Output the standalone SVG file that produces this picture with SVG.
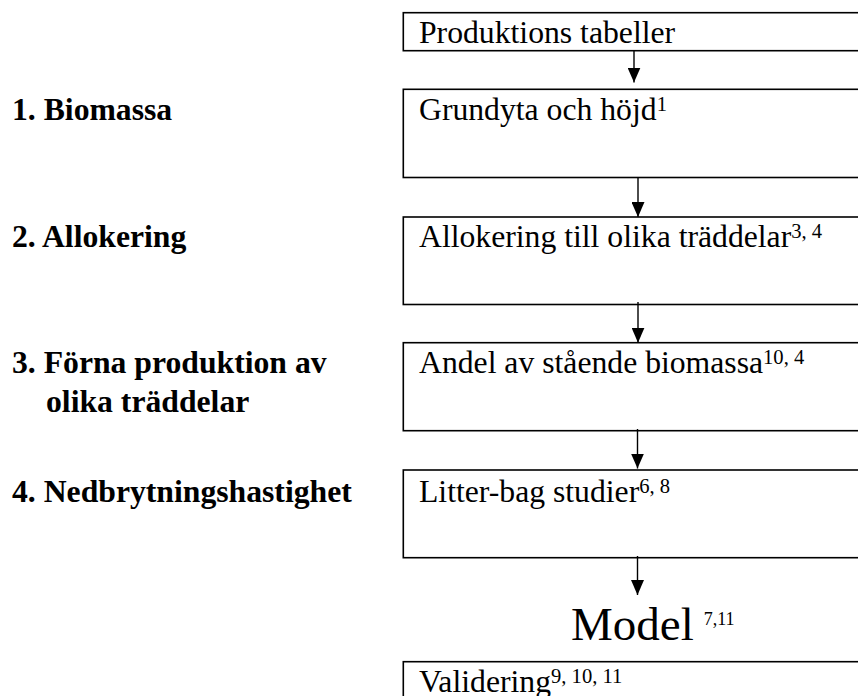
<svg xmlns="http://www.w3.org/2000/svg" width="858" height="696" viewBox="0 0 858 696">
<style>
.box{fill:#fff;stroke:#000;stroke-width:1.6}
.t{font-family:"Liberation Serif","Times New Roman",serif;font-size:31.7px;fill:#000}
.b{font-family:"Liberation Serif","Times New Roman",serif;font-size:31.7px;font-weight:bold;fill:#000}
.sup{font-size:20.6px}
.con{stroke:#000;stroke-width:1.4;fill:none;marker-end:url(#ah)}
</style>
<defs>
<marker id="ah" markerUnits="userSpaceOnUse" viewBox="0 0 15 13" markerWidth="15" markerHeight="13" refX="15" refY="6.5" orient="auto">
<path d="M0,0 L15,6.5 L0,13 z" fill="#000"/>
</marker>
</defs>
<rect width="858" height="696" fill="#fff"/>
<g id="labels">
<text class="b" x="12" y="120">1. Biomassa</text>
<text class="b" x="12" y="247.3">2. Allokering</text>
<text class="b" x="12" y="373.3">3. Förna produktion av</text>
<text class="b" x="46" y="411.7">olika träddelar</text>
<text class="b" x="12" y="501.7">4. Nedbrytningshastighet</text>
</g>
<g id="n0">
<rect class="box" x="403.3" y="12.7" width="470" height="38"/>
<text class="t" x="419" y="43.3">Produktions tabeller</text>
</g>
<g id="n1">
<rect class="box" x="403.3" y="89.3" width="470" height="88.2"/>
<text class="t" x="419" y="120">Grundyta och höjd<tspan class="sup" dy="-9">1</tspan></text>
</g>
<g id="n2">
<rect class="box" x="403.3" y="217" width="470" height="87.5"/>
<text class="t" x="419" y="247.3">Allokering till olika träddelar<tspan class="sup" dy="-9">3, 4</tspan></text>
</g>
<g id="n3">
<rect class="box" x="403.3" y="342.7" width="470" height="88"/>
<text class="t" x="419" y="373.3">Andel av stående biomassa<tspan class="sup" dy="-9">10, 4</tspan></text>
</g>
<g id="n4">
<rect class="box" x="403.3" y="470" width="470" height="87.7"/>
<text class="t" x="419" y="501.7">Litter-bag studier<tspan class="sup" dy="-9">6, 8</tspan></text>
</g>
<g id="n5">
<text class="t" x="571" y="640" style="font-size:47px">Model<tspan style="font-size:18px" dx="10" dy="-15">7,11</tspan></text>
</g>
<g id="n6">
<rect class="box" x="403.3" y="661.7" width="470" height="60"/>
<text class="t" x="419" y="691.7">Validering<tspan class="sup" dy="-9">9, 10, 11</tspan></text>
</g>
<g id="connectors">
<line class="con" x1="634" y1="50.7" x2="634" y2="82.5"/>
<line class="con" x1="638" y1="177.5" x2="638" y2="217"/>
<line class="con" x1="638" y1="302" x2="638" y2="342.7"/>
<line class="con" x1="637.5" y1="429" x2="637.5" y2="468.5"/>
<line class="con" x1="637.5" y1="556" x2="637.5" y2="595"/>
</g>
</svg>
